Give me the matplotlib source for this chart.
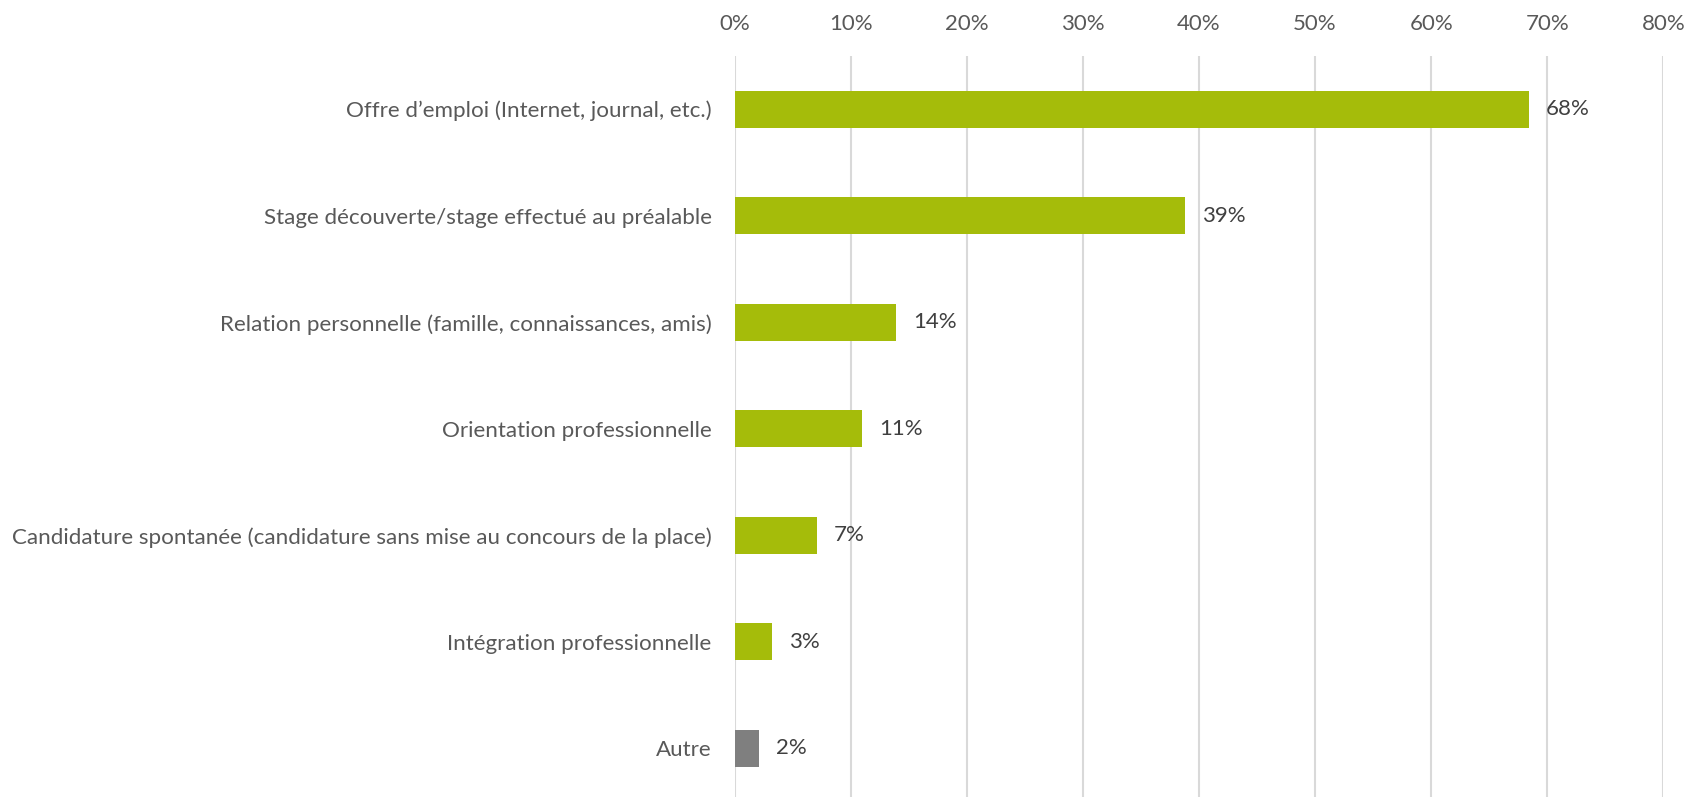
import matplotlib
matplotlib.use("Agg")
import matplotlib.pyplot as plt
from matplotlib.ticker import FuncFormatter, MultipleLocator

categories = [
    "Offre d’emploi (Internet, journal, etc.)",
    "Stage découverte/stage effectué au préalable",
    "Relation personnelle (famille, connaissances, amis)",
    "Orientation professionnelle",
    "Candidature spontanée (candidature sans mise au concours de la place)",
    "Intégration professionnelle",
    "Autre",
]
values = [68.4, 38.8, 13.9, 11.0, 7.1, 3.2, 2.1]
labels = ["68%", "39%", "14%", "11%", "7%", "3%", "2%"]
colors = ["#A5BC0A"] * 6 + ["#7F7F7F"]

plt.rcParams["font.family"] = ["Lato", "DejaVu Sans"]
text_color = "#595959"

fig = plt.figure(figsize=(16.96, 7.97), dpi=100)
ax = fig.add_axes([0.4331, -0.006, 0.9808 - 0.4331, 0.936])

y = list(range(len(categories)))
ax.barh(y, values, height=0.346, color=colors, zorder=3)
for yi, v, lab in zip(y, values, labels):
    ax.text(v + 1.45, yi, lab, va="center", ha="left", fontsize=16, color="#404040")

ax.set_xlim(0, 80)
ax.set_ylim(len(categories) - 0.5, -0.5)
ax.xaxis.set_major_locator(MultipleLocator(10))
ax.xaxis.set_major_formatter(FuncFormatter(lambda x, p: f"{int(round(x))}%"))
ax.xaxis.tick_top()
ax.set_yticks(y)
ax.set_yticklabels(categories)
ax.tick_params(axis="x", length=0, pad=16, labelsize=16, labelcolor=text_color)
ax.tick_params(axis="y", length=0, pad=16.5, labelsize=16.1, labelcolor=text_color)
ax.grid(axis="x", color="#D9D9D9", linewidth=1.5, zorder=0)
for s in ax.spines.values():
    s.set_visible(False)

fig.savefig("out.png", dpi=100, facecolor="white")
